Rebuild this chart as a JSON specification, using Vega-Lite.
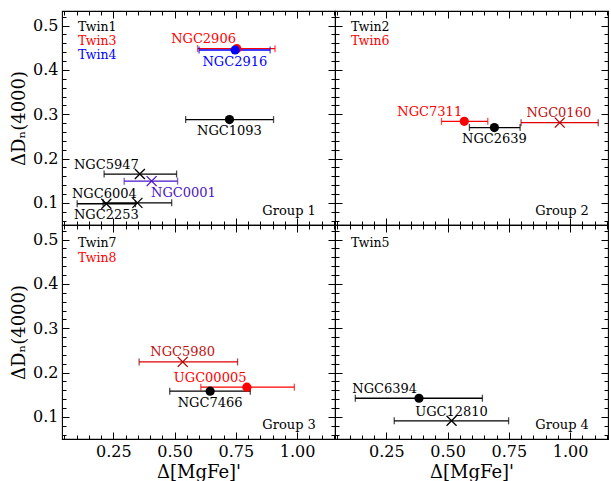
{
  "$schema": "https://vega.github.io/schema/vega-lite/v6.json",
  "padding": {"left": 10, "top": 9, "right": 2, "bottom": 5},
  "background": "white",
  "config": {
    "view": {"stroke": "#000000", "strokeWidth": 1.1},
    "axis": {"domain": false, "grid": false, "tickColor": "#000000", "tickWidth": 1, "labelColor": "#000000", "titleColor": "#000000", "labelFont": "DejaVu Serif", "labelFontSize": 16, "titleFont": "DejaVu Serif", "titleFontSize": 18, "titleFontWeight": "normal", "zindex": 1},
    "text": {"font": "DejaVu Serif", "fontSize": 13}
  },
  "datasets": {
    "rows": [
      {"g": 1, "k": "pt", "name": "NGC2906", "x": 0.754, "y": 0.448, "lo": 0.594, "hi": 0.91, "m": "o", "c": "r"},
      {"g": 1, "k": "pt", "name": "NGC2916", "x": 0.747, "y": 0.445, "lo": 0.6, "hi": 0.89, "m": "o", "c": "b"},
      {"g": 1, "k": "pt", "name": "NGC1093", "x": 0.724, "y": 0.288, "lo": 0.545, "hi": 0.904, "m": "o", "c": "k"},
      {"g": 1, "k": "pt", "name": "NGC5947", "x": 0.358, "y": 0.165, "lo": 0.212, "hi": 0.508, "m": "x", "c": "k"},
      {"g": 1, "k": "pt", "name": "NGC0001", "x": 0.406, "y": 0.149, "lo": 0.294, "hi": 0.512, "m": "x", "c": "p"},
      {"g": 1, "k": "pt", "name": "NGC6004", "x": 0.221, "y": 0.098, "lo": 0.102, "hi": 0.34, "m": "x", "c": "k"},
      {"g": 1, "k": "pt", "name": "NGC2253", "x": 0.348, "y": 0.1, "lo": 0.208, "hi": 0.488, "m": "x", "c": "k"},
      {"g": 2, "k": "pt", "name": "NGC7311", "x": 0.568, "y": 0.284, "lo": 0.475, "hi": 0.664, "m": "o", "c": "r"},
      {"g": 2, "k": "pt", "name": "NGC2639", "x": 0.691, "y": 0.27, "lo": 0.589, "hi": 0.796, "m": "o", "c": "k"},
      {"g": 2, "k": "pt", "name": "NGC0160", "x": 0.958, "y": 0.281, "lo": 0.8, "hi": 1.115, "m": "x", "c": "d"},
      {"g": 3, "k": "pt", "name": "NGC5980", "x": 0.533, "y": 0.224, "lo": 0.355, "hi": 0.757, "m": "x", "c": "d"},
      {"g": 3, "k": "pt", "name": "UGC00005", "x": 0.795, "y": 0.167, "lo": 0.607, "hi": 0.989, "m": "o", "c": "r"},
      {"g": 3, "k": "pt", "name": "NGC7466", "x": 0.645, "y": 0.158, "lo": 0.48, "hi": 0.809, "m": "o", "c": "k"},
      {"g": 4, "k": "pt", "name": "NGC6394", "x": 0.383, "y": 0.142, "lo": 0.123, "hi": 0.642, "m": "o", "c": "k"},
      {"g": 4, "k": "pt", "name": "UGC12810", "x": 0.516, "y": 0.091, "lo": 0.282, "hi": 0.749, "m": "x", "c": "k"},
      {"g": 1, "k": "lab", "text": "NGC2906", "x": 0.618, "y": 0.47, "c": "r"},
      {"g": 1, "k": "lab", "text": "NGC2916", "x": 0.746, "y": 0.418, "c": "b"},
      {"g": 1, "k": "lab", "text": "NGC1093", "x": 0.724, "y": 0.262, "c": "k"},
      {"g": 1, "k": "lab", "text": "NGC5947", "x": 0.221, "y": 0.185, "c": "k"},
      {"g": 1, "k": "lab", "text": "NGC0001", "x": 0.536, "y": 0.123, "c": "p"},
      {"g": 1, "k": "lab", "text": "NGC6004", "x": 0.213, "y": 0.119, "c": "k"},
      {"g": 1, "k": "lab", "text": "NGC2253", "x": 0.221, "y": 0.073, "c": "k"},
      {"g": 2, "k": "lab", "text": "NGC7311", "x": 0.427, "y": 0.305, "c": "r"},
      {"g": 2, "k": "lab", "text": "NGC2639", "x": 0.691, "y": 0.245, "c": "k"},
      {"g": 2, "k": "lab", "text": "NGC0160", "x": 0.954, "y": 0.302, "c": "d"},
      {"g": 3, "k": "lab", "text": "NGC5980", "x": 0.533, "y": 0.246, "c": "d"},
      {"g": 3, "k": "lab", "text": "UGC00005", "x": 0.645, "y": 0.188, "c": "r"},
      {"g": 3, "k": "lab", "text": "NGC7466", "x": 0.645, "y": 0.132, "c": "k"},
      {"g": 4, "k": "lab", "text": "NGC6394", "x": 0.243, "y": 0.162, "c": "k"},
      {"g": 4, "k": "lab", "text": "UGC12810", "x": 0.516, "y": 0.112, "c": "k"},
      {"g": 1, "k": "twin", "text": "Twin1", "x": 0.105, "y": 0.497, "c": "k"},
      {"g": 1, "k": "twin", "text": "Twin3", "x": 0.105, "y": 0.465, "c": "r"},
      {"g": 1, "k": "twin", "text": "Twin4", "x": 0.105, "y": 0.434, "c": "b"},
      {"g": 2, "k": "twin", "text": "Twin2", "x": 0.105, "y": 0.497, "c": "k"},
      {"g": 2, "k": "twin", "text": "Twin6", "x": 0.105, "y": 0.465, "c": "r"},
      {"g": 3, "k": "twin", "text": "Twin7", "x": 0.105, "y": 0.492, "c": "k"},
      {"g": 3, "k": "twin", "text": "Twin8", "x": 0.105, "y": 0.459, "c": "r"},
      {"g": 4, "k": "twin", "text": "Twin5", "x": 0.105, "y": 0.492, "c": "k"},
      {"g": 1, "k": "grp", "text": "Group 1", "x": 1.077, "y": 0.082, "c": "k"},
      {"g": 2, "k": "grp", "text": "Group 2", "x": 1.077, "y": 0.082, "c": "k"},
      {"g": 3, "k": "grp", "text": "Group 3", "x": 1.077, "y": 0.082, "c": "k"},
      {"g": 4, "k": "grp", "text": "Group 4", "x": 1.077, "y": 0.082, "c": "k"}
    ]
  },
  "columns": 2,
  "spacing": 0,
  "bounds": "flush",
  "concat": [
    {
      "width": 273, "height": 214,
      "data": {"name": "rows"},
      "transform": [{"filter": "datum.g == 1"}],
      "resolve": {"axis": {"x": "independent", "y": "independent"}, "scale": {"color": "independent"}},
      "layer": [
        {"transform": [{"filter": "datum.k == 'pt'"}], "mark": {"type": "rule", "strokeWidth": 1.3},
         "encoding": {
           "x": {"field": "lo", "type": "quantitative", "scale": {"domain": [0.04, 1.155], "nice": false, "zero": false}, "axis": null},
           "x2": {"field": "hi"},
           "y": {"field": "y", "type": "quantitative", "scale": {"domain": [0.05, 0.533], "nice": false, "zero": false}, "axis": {"orient": "left", "values": [0.1, 0.2, 0.3, 0.4, 0.5], "ticks": false, "tickSize": 0, "labelPadding": 4, "format": ".1f", "title": "ΔDₙ(4000)"}},
           "color": {"field": "c", "type": "nominal", "scale": {"domain": ["k", "r", "b", "p", "d"], "range": ["#000000", "#ff0000", "#0000ff", "#4a14c8", "#e00000"]}, "legend": null}}},
        {"transform": [{"filter": "datum.k == 'pt'"}], "mark": {"type": "tick", "orient": "vertical", "size": 7, "thickness": 1.3},
         "encoding": {
           "x": {"field": "lo", "type": "quantitative", "scale": {"domain": [0.04, 1.155], "nice": false, "zero": false}, "axis": {"orient": "top", "offset": -214, "values": [0.25, 0.5, 0.75, 1.0], "tickSize": 7, "labels": false, "title": null}},
           "y": {"field": "y", "type": "quantitative", "scale": {"domain": [0.05, 0.533], "nice": false, "zero": false}, "axis": {"orient": "right", "offset": -273, "values": [0.1, 0.2, 0.3, 0.4, 0.5], "tickSize": 7, "labels": false, "title": null}},
           "color": {"field": "c", "type": "nominal", "scale": {"domain": ["k", "r", "b", "p", "d"], "range": ["#000000", "#ff0000", "#0000ff", "#4a14c8", "#800000"]}, "legend": null}}},
        {"transform": [{"filter": "datum.k == 'pt'"}], "mark": {"type": "tick", "orient": "vertical", "size": 7, "thickness": 1.3},
         "encoding": {
           "x": {"field": "hi", "type": "quantitative", "scale": {"domain": [0.04, 1.155], "nice": false, "zero": false}, "axis": {"orient": "top", "offset": -214, "values": [0.05, 0.1, 0.15, 0.2, 0.3, 0.35, 0.4, 0.45, 0.55, 0.6, 0.65, 0.7, 0.8, 0.85, 0.9, 0.95, 1.05, 1.1, 1.15], "tickSize": 4, "labels": false, "title": null}},
           "y": {"field": "y", "type": "quantitative", "scale": {"domain": [0.05, 0.533], "nice": false, "zero": false}, "axis": {"orient": "right", "offset": -273, "values": [0.06, 0.08, 0.12, 0.14, 0.16, 0.18, 0.22, 0.24, 0.26, 0.28, 0.32, 0.34, 0.36, 0.38, 0.42, 0.44, 0.46, 0.48, 0.52], "tickSize": 4, "labels": false, "title": null}},
           "color": {"field": "c", "type": "nominal", "scale": {"domain": ["k", "r", "b", "p", "d"], "range": ["#000000", "#ff0000", "#0000ff", "#4a14c8", "#800000"]}, "legend": null}}},
        {"transform": [{"filter": "datum.k == 'pt' && datum.m == 'o'"}], "mark": {"type": "point", "shape": "circle", "filled": true, "opacity": 1, "size": 85},
         "encoding": {
           "x": {"field": "x", "type": "quantitative", "scale": {"domain": [0.04, 1.155], "nice": false, "zero": false}, "axis": {"orient": "bottom", "offset": -214, "values": [0.25, 0.5, 0.75, 1.0], "tickSize": 7, "labels": false, "title": null}},
           "y": {"field": "y", "type": "quantitative", "scale": {"domain": [0.05, 0.533], "nice": false, "zero": false}, "axis": {"orient": "left", "offset": -273, "values": [0.1, 0.2, 0.3, 0.4, 0.5], "tickSize": 7, "labels": false, "title": null}},
           "color": {"field": "c", "type": "nominal", "scale": {"domain": ["k", "r", "b", "p", "d"], "range": ["#000000", "#ff0000", "#0000ff", "#4a14c8", "#b00000"]}, "legend": null}}},
        {"transform": [{"filter": "datum.k == 'pt' && datum.m == 'x'"}], "mark": {"type": "point", "shape": "M-1,-1L1,1M1,-1L-1,1", "filled": false, "opacity": 1, "size": 100, "strokeWidth": 1.3},
         "encoding": {
           "x": {"field": "x", "type": "quantitative", "scale": {"domain": [0.04, 1.155], "nice": false, "zero": false}, "axis": {"orient": "bottom", "offset": -214, "values": [0.05, 0.1, 0.15, 0.2, 0.3, 0.35, 0.4, 0.45, 0.55, 0.6, 0.65, 0.7, 0.8, 0.85, 0.9, 0.95, 1.05, 1.1, 1.15], "tickSize": 4, "labels": false, "title": null}},
           "y": {"field": "y", "type": "quantitative", "scale": {"domain": [0.05, 0.533], "nice": false, "zero": false}, "axis": {"orient": "left", "offset": -273, "values": [0.06, 0.08, 0.12, 0.14, 0.16, 0.18, 0.22, 0.24, 0.26, 0.28, 0.32, 0.34, 0.36, 0.38, 0.42, 0.44, 0.46, 0.48, 0.52], "tickSize": 4, "labels": false, "title": null}},
           "color": {"field": "c", "type": "nominal", "scale": {"domain": ["k", "r", "b", "p", "d"], "range": ["#000000", "#ff0000", "#0000ff", "#4a14c8", "#b00000"]}, "legend": null}}},
        {"transform": [{"filter": "datum.k == 'lab'"}], "mark": {"type": "text", "align": "center", "baseline": "middle"},
         "encoding": {
           "x": {"field": "x", "type": "quantitative", "scale": {"domain": [0.04, 1.155], "nice": false, "zero": false}, "axis": null},
           "y": {"field": "y", "type": "quantitative", "scale": {"domain": [0.05, 0.533], "nice": false, "zero": false}, "axis": null},
           "text": {"field": "text"},
           "color": {"field": "c", "type": "nominal", "scale": {"domain": ["k", "r", "b", "p", "d"], "range": ["#000000", "#ff0000", "#0000ff", "#4a14c8", "#c01010"]}, "legend": null}}},
        {"transform": [{"filter": "datum.k == 'twin'"}], "mark": {"type": "text", "align": "left", "baseline": "middle", "fontSize": 12.5},
         "encoding": {
           "x": {"field": "x", "type": "quantitative", "scale": {"domain": [0.04, 1.155], "nice": false, "zero": false}, "axis": null},
           "y": {"field": "y", "type": "quantitative", "scale": {"domain": [0.05, 0.533], "nice": false, "zero": false}, "axis": null},
           "text": {"field": "text"},
           "color": {"field": "c", "type": "nominal", "scale": {"domain": ["k", "r", "b", "p", "d"], "range": ["#000000", "#ff0000", "#0000ff", "#4a14c8", "#c01010"]}, "legend": null}}},
        {"transform": [{"filter": "datum.k == 'grp'"}], "mark": {"type": "text", "align": "right", "baseline": "middle", "color": "#000000"},
         "encoding": {
           "x": {"field": "x", "type": "quantitative", "scale": {"domain": [0.04, 1.155], "nice": false, "zero": false}, "axis": null},
           "y": {"field": "y", "type": "quantitative", "scale": {"domain": [0.05, 0.533], "nice": false, "zero": false}, "axis": null},
           "text": {"field": "text"}}}
      ]
    },
    {
      "width": 273, "height": 214,
      "data": {"name": "rows"},
      "transform": [{"filter": "datum.g == 2"}],
      "resolve": {"axis": {"x": "independent", "y": "independent"}, "scale": {"color": "independent"}},
      "layer": [
        {"transform": [{"filter": "datum.k == 'pt'"}], "mark": {"type": "rule", "strokeWidth": 1.3},
         "encoding": {
           "x": {"field": "lo", "type": "quantitative", "scale": {"domain": [0.04, 1.155], "nice": false, "zero": false}, "axis": null},
           "x2": {"field": "hi"},
           "y": {"field": "y", "type": "quantitative", "scale": {"domain": [0.05, 0.533], "nice": false, "zero": false}, "axis": null},
           "color": {"field": "c", "type": "nominal", "scale": {"domain": ["k", "r", "b", "p", "d"], "range": ["#000000", "#ff0000", "#0000ff", "#4a14c8", "#e00000"]}, "legend": null}}},
        {"transform": [{"filter": "datum.k == 'pt'"}], "mark": {"type": "tick", "orient": "vertical", "size": 7, "thickness": 1.3},
         "encoding": {
           "x": {"field": "lo", "type": "quantitative", "scale": {"domain": [0.04, 1.155], "nice": false, "zero": false}, "axis": {"orient": "top", "offset": -214, "values": [0.25, 0.5, 0.75, 1.0], "tickSize": 7, "labels": false, "title": null}},
           "y": {"field": "y", "type": "quantitative", "scale": {"domain": [0.05, 0.533], "nice": false, "zero": false}, "axis": {"orient": "right", "offset": -273, "values": [0.1, 0.2, 0.3, 0.4, 0.5], "tickSize": 7, "labels": false, "title": null}},
           "color": {"field": "c", "type": "nominal", "scale": {"domain": ["k", "r", "b", "p", "d"], "range": ["#000000", "#ff0000", "#0000ff", "#4a14c8", "#800000"]}, "legend": null}}},
        {"transform": [{"filter": "datum.k == 'pt'"}], "mark": {"type": "tick", "orient": "vertical", "size": 7, "thickness": 1.3},
         "encoding": {
           "x": {"field": "hi", "type": "quantitative", "scale": {"domain": [0.04, 1.155], "nice": false, "zero": false}, "axis": {"orient": "top", "offset": -214, "values": [0.05, 0.1, 0.15, 0.2, 0.3, 0.35, 0.4, 0.45, 0.55, 0.6, 0.65, 0.7, 0.8, 0.85, 0.9, 0.95, 1.05, 1.1, 1.15], "tickSize": 4, "labels": false, "title": null}},
           "y": {"field": "y", "type": "quantitative", "scale": {"domain": [0.05, 0.533], "nice": false, "zero": false}, "axis": {"orient": "right", "offset": -273, "values": [0.06, 0.08, 0.12, 0.14, 0.16, 0.18, 0.22, 0.24, 0.26, 0.28, 0.32, 0.34, 0.36, 0.38, 0.42, 0.44, 0.46, 0.48, 0.52], "tickSize": 4, "labels": false, "title": null}},
           "color": {"field": "c", "type": "nominal", "scale": {"domain": ["k", "r", "b", "p", "d"], "range": ["#000000", "#ff0000", "#0000ff", "#4a14c8", "#800000"]}, "legend": null}}},
        {"transform": [{"filter": "datum.k == 'pt' && datum.m == 'o'"}], "mark": {"type": "point", "shape": "circle", "filled": true, "opacity": 1, "size": 85},
         "encoding": {
           "x": {"field": "x", "type": "quantitative", "scale": {"domain": [0.04, 1.155], "nice": false, "zero": false}, "axis": {"orient": "bottom", "offset": -214, "values": [0.25, 0.5, 0.75, 1.0], "tickSize": 7, "labels": false, "title": null}},
           "y": {"field": "y", "type": "quantitative", "scale": {"domain": [0.05, 0.533], "nice": false, "zero": false}, "axis": {"orient": "left", "offset": -273, "values": [0.1, 0.2, 0.3, 0.4, 0.5], "tickSize": 7, "labels": false, "title": null}},
           "color": {"field": "c", "type": "nominal", "scale": {"domain": ["k", "r", "b", "p", "d"], "range": ["#000000", "#ff0000", "#0000ff", "#4a14c8", "#b00000"]}, "legend": null}}},
        {"transform": [{"filter": "datum.k == 'pt' && datum.m == 'x'"}], "mark": {"type": "point", "shape": "M-1,-1L1,1M1,-1L-1,1", "filled": false, "opacity": 1, "size": 100, "strokeWidth": 1.3},
         "encoding": {
           "x": {"field": "x", "type": "quantitative", "scale": {"domain": [0.04, 1.155], "nice": false, "zero": false}, "axis": {"orient": "bottom", "offset": -214, "values": [0.05, 0.1, 0.15, 0.2, 0.3, 0.35, 0.4, 0.45, 0.55, 0.6, 0.65, 0.7, 0.8, 0.85, 0.9, 0.95, 1.05, 1.1, 1.15], "tickSize": 4, "labels": false, "title": null}},
           "y": {"field": "y", "type": "quantitative", "scale": {"domain": [0.05, 0.533], "nice": false, "zero": false}, "axis": {"orient": "left", "offset": -273, "values": [0.06, 0.08, 0.12, 0.14, 0.16, 0.18, 0.22, 0.24, 0.26, 0.28, 0.32, 0.34, 0.36, 0.38, 0.42, 0.44, 0.46, 0.48, 0.52], "tickSize": 4, "labels": false, "title": null}},
           "color": {"field": "c", "type": "nominal", "scale": {"domain": ["k", "r", "b", "p", "d"], "range": ["#000000", "#ff0000", "#0000ff", "#4a14c8", "#b00000"]}, "legend": null}}},
        {"transform": [{"filter": "datum.k == 'lab'"}], "mark": {"type": "text", "align": "center", "baseline": "middle"},
         "encoding": {
           "x": {"field": "x", "type": "quantitative", "scale": {"domain": [0.04, 1.155], "nice": false, "zero": false}, "axis": null},
           "y": {"field": "y", "type": "quantitative", "scale": {"domain": [0.05, 0.533], "nice": false, "zero": false}, "axis": null},
           "text": {"field": "text"},
           "color": {"field": "c", "type": "nominal", "scale": {"domain": ["k", "r", "b", "p", "d"], "range": ["#000000", "#ff0000", "#0000ff", "#4a14c8", "#c01010"]}, "legend": null}}},
        {"transform": [{"filter": "datum.k == 'twin'"}], "mark": {"type": "text", "align": "left", "baseline": "middle", "fontSize": 12.5},
         "encoding": {
           "x": {"field": "x", "type": "quantitative", "scale": {"domain": [0.04, 1.155], "nice": false, "zero": false}, "axis": null},
           "y": {"field": "y", "type": "quantitative", "scale": {"domain": [0.05, 0.533], "nice": false, "zero": false}, "axis": null},
           "text": {"field": "text"},
           "color": {"field": "c", "type": "nominal", "scale": {"domain": ["k", "r", "b", "p", "d"], "range": ["#000000", "#ff0000", "#0000ff", "#4a14c8", "#c01010"]}, "legend": null}}},
        {"transform": [{"filter": "datum.k == 'grp'"}], "mark": {"type": "text", "align": "right", "baseline": "middle", "color": "#000000"},
         "encoding": {
           "x": {"field": "x", "type": "quantitative", "scale": {"domain": [0.04, 1.155], "nice": false, "zero": false}, "axis": null},
           "y": {"field": "y", "type": "quantitative", "scale": {"domain": [0.05, 0.533], "nice": false, "zero": false}, "axis": null},
           "text": {"field": "text"}}}
      ]
    },
    {
      "width": 273, "height": 214,
      "data": {"name": "rows"},
      "transform": [{"filter": "datum.g == 3"}],
      "resolve": {"axis": {"x": "independent", "y": "independent"}, "scale": {"color": "independent"}},
      "layer": [
        {"transform": [{"filter": "datum.k == 'pt'"}], "mark": {"type": "rule", "strokeWidth": 1.3},
         "encoding": {
           "x": {"field": "lo", "type": "quantitative", "scale": {"domain": [0.04, 1.155], "nice": false, "zero": false}, "axis": {"orient": "bottom", "values": [0.25, 0.5, 0.75, 1.0], "ticks": false, "tickSize": 0, "labelPadding": 4, "format": ".2f", "title": "Δ[MgFe]'"}},
           "x2": {"field": "hi"},
           "y": {"field": "y", "type": "quantitative", "scale": {"domain": [0.05, 0.533], "nice": false, "zero": false}, "axis": {"orient": "left", "values": [0.1, 0.2, 0.3, 0.4, 0.5], "ticks": false, "tickSize": 0, "labelPadding": 4, "format": ".1f", "title": "ΔDₙ(4000)"}},
           "color": {"field": "c", "type": "nominal", "scale": {"domain": ["k", "r", "b", "p", "d"], "range": ["#000000", "#ff0000", "#0000ff", "#4a14c8", "#e00000"]}, "legend": null}}},
        {"transform": [{"filter": "datum.k == 'pt'"}], "mark": {"type": "tick", "orient": "vertical", "size": 7, "thickness": 1.3},
         "encoding": {
           "x": {"field": "lo", "type": "quantitative", "scale": {"domain": [0.04, 1.155], "nice": false, "zero": false}, "axis": {"orient": "top", "offset": -214, "values": [0.25, 0.5, 0.75, 1.0], "tickSize": 7, "labels": false, "title": null}},
           "y": {"field": "y", "type": "quantitative", "scale": {"domain": [0.05, 0.533], "nice": false, "zero": false}, "axis": {"orient": "right", "offset": -273, "values": [0.1, 0.2, 0.3, 0.4, 0.5], "tickSize": 7, "labels": false, "title": null}},
           "color": {"field": "c", "type": "nominal", "scale": {"domain": ["k", "r", "b", "p", "d"], "range": ["#000000", "#ff0000", "#0000ff", "#4a14c8", "#800000"]}, "legend": null}}},
        {"transform": [{"filter": "datum.k == 'pt'"}], "mark": {"type": "tick", "orient": "vertical", "size": 7, "thickness": 1.3},
         "encoding": {
           "x": {"field": "hi", "type": "quantitative", "scale": {"domain": [0.04, 1.155], "nice": false, "zero": false}, "axis": {"orient": "top", "offset": -214, "values": [0.05, 0.1, 0.15, 0.2, 0.3, 0.35, 0.4, 0.45, 0.55, 0.6, 0.65, 0.7, 0.8, 0.85, 0.9, 0.95, 1.05, 1.1, 1.15], "tickSize": 4, "labels": false, "title": null}},
           "y": {"field": "y", "type": "quantitative", "scale": {"domain": [0.05, 0.533], "nice": false, "zero": false}, "axis": {"orient": "right", "offset": -273, "values": [0.06, 0.08, 0.12, 0.14, 0.16, 0.18, 0.22, 0.24, 0.26, 0.28, 0.32, 0.34, 0.36, 0.38, 0.42, 0.44, 0.46, 0.48, 0.52], "tickSize": 4, "labels": false, "title": null}},
           "color": {"field": "c", "type": "nominal", "scale": {"domain": ["k", "r", "b", "p", "d"], "range": ["#000000", "#ff0000", "#0000ff", "#4a14c8", "#800000"]}, "legend": null}}},
        {"transform": [{"filter": "datum.k == 'pt' && datum.m == 'o'"}], "mark": {"type": "point", "shape": "circle", "filled": true, "opacity": 1, "size": 85},
         "encoding": {
           "x": {"field": "x", "type": "quantitative", "scale": {"domain": [0.04, 1.155], "nice": false, "zero": false}, "axis": {"orient": "bottom", "offset": -214, "values": [0.25, 0.5, 0.75, 1.0], "tickSize": 7, "labels": false, "title": null}},
           "y": {"field": "y", "type": "quantitative", "scale": {"domain": [0.05, 0.533], "nice": false, "zero": false}, "axis": {"orient": "left", "offset": -273, "values": [0.1, 0.2, 0.3, 0.4, 0.5], "tickSize": 7, "labels": false, "title": null}},
           "color": {"field": "c", "type": "nominal", "scale": {"domain": ["k", "r", "b", "p", "d"], "range": ["#000000", "#ff0000", "#0000ff", "#4a14c8", "#b00000"]}, "legend": null}}},
        {"transform": [{"filter": "datum.k == 'pt' && datum.m == 'x'"}], "mark": {"type": "point", "shape": "M-1,-1L1,1M1,-1L-1,1", "filled": false, "opacity": 1, "size": 100, "strokeWidth": 1.3},
         "encoding": {
           "x": {"field": "x", "type": "quantitative", "scale": {"domain": [0.04, 1.155], "nice": false, "zero": false}, "axis": {"orient": "bottom", "offset": -214, "values": [0.05, 0.1, 0.15, 0.2, 0.3, 0.35, 0.4, 0.45, 0.55, 0.6, 0.65, 0.7, 0.8, 0.85, 0.9, 0.95, 1.05, 1.1, 1.15], "tickSize": 4, "labels": false, "title": null}},
           "y": {"field": "y", "type": "quantitative", "scale": {"domain": [0.05, 0.533], "nice": false, "zero": false}, "axis": {"orient": "left", "offset": -273, "values": [0.06, 0.08, 0.12, 0.14, 0.16, 0.18, 0.22, 0.24, 0.26, 0.28, 0.32, 0.34, 0.36, 0.38, 0.42, 0.44, 0.46, 0.48, 0.52], "tickSize": 4, "labels": false, "title": null}},
           "color": {"field": "c", "type": "nominal", "scale": {"domain": ["k", "r", "b", "p", "d"], "range": ["#000000", "#ff0000", "#0000ff", "#4a14c8", "#b00000"]}, "legend": null}}},
        {"transform": [{"filter": "datum.k == 'lab'"}], "mark": {"type": "text", "align": "center", "baseline": "middle"},
         "encoding": {
           "x": {"field": "x", "type": "quantitative", "scale": {"domain": [0.04, 1.155], "nice": false, "zero": false}, "axis": null},
           "y": {"field": "y", "type": "quantitative", "scale": {"domain": [0.05, 0.533], "nice": false, "zero": false}, "axis": null},
           "text": {"field": "text"},
           "color": {"field": "c", "type": "nominal", "scale": {"domain": ["k", "r", "b", "p", "d"], "range": ["#000000", "#ff0000", "#0000ff", "#4a14c8", "#c01010"]}, "legend": null}}},
        {"transform": [{"filter": "datum.k == 'twin'"}], "mark": {"type": "text", "align": "left", "baseline": "middle", "fontSize": 12.5},
         "encoding": {
           "x": {"field": "x", "type": "quantitative", "scale": {"domain": [0.04, 1.155], "nice": false, "zero": false}, "axis": null},
           "y": {"field": "y", "type": "quantitative", "scale": {"domain": [0.05, 0.533], "nice": false, "zero": false}, "axis": null},
           "text": {"field": "text"},
           "color": {"field": "c", "type": "nominal", "scale": {"domain": ["k", "r", "b", "p", "d"], "range": ["#000000", "#ff0000", "#0000ff", "#4a14c8", "#c01010"]}, "legend": null}}},
        {"transform": [{"filter": "datum.k == 'grp'"}], "mark": {"type": "text", "align": "right", "baseline": "middle", "color": "#000000"},
         "encoding": {
           "x": {"field": "x", "type": "quantitative", "scale": {"domain": [0.04, 1.155], "nice": false, "zero": false}, "axis": null},
           "y": {"field": "y", "type": "quantitative", "scale": {"domain": [0.05, 0.533], "nice": false, "zero": false}, "axis": null},
           "text": {"field": "text"}}}
      ]
    },
    {
      "width": 273, "height": 214,
      "data": {"name": "rows"},
      "transform": [{"filter": "datum.g == 4"}],
      "resolve": {"axis": {"x": "independent", "y": "independent"}, "scale": {"color": "independent"}},
      "layer": [
        {"transform": [{"filter": "datum.k == 'pt'"}], "mark": {"type": "rule", "strokeWidth": 1.3},
         "encoding": {
           "x": {"field": "lo", "type": "quantitative", "scale": {"domain": [0.04, 1.155], "nice": false, "zero": false}, "axis": {"orient": "bottom", "values": [0.25, 0.5, 0.75, 1.0], "ticks": false, "tickSize": 0, "labelPadding": 4, "format": ".2f", "title": "Δ[MgFe]'"}},
           "x2": {"field": "hi"},
           "y": {"field": "y", "type": "quantitative", "scale": {"domain": [0.05, 0.533], "nice": false, "zero": false}, "axis": null},
           "color": {"field": "c", "type": "nominal", "scale": {"domain": ["k", "r", "b", "p", "d"], "range": ["#000000", "#ff0000", "#0000ff", "#4a14c8", "#e00000"]}, "legend": null}}},
        {"transform": [{"filter": "datum.k == 'pt'"}], "mark": {"type": "tick", "orient": "vertical", "size": 7, "thickness": 1.3},
         "encoding": {
           "x": {"field": "lo", "type": "quantitative", "scale": {"domain": [0.04, 1.155], "nice": false, "zero": false}, "axis": {"orient": "top", "offset": -214, "values": [0.25, 0.5, 0.75, 1.0], "tickSize": 7, "labels": false, "title": null}},
           "y": {"field": "y", "type": "quantitative", "scale": {"domain": [0.05, 0.533], "nice": false, "zero": false}, "axis": {"orient": "right", "offset": -273, "values": [0.1, 0.2, 0.3, 0.4, 0.5], "tickSize": 7, "labels": false, "title": null}},
           "color": {"field": "c", "type": "nominal", "scale": {"domain": ["k", "r", "b", "p", "d"], "range": ["#000000", "#ff0000", "#0000ff", "#4a14c8", "#800000"]}, "legend": null}}},
        {"transform": [{"filter": "datum.k == 'pt'"}], "mark": {"type": "tick", "orient": "vertical", "size": 7, "thickness": 1.3},
         "encoding": {
           "x": {"field": "hi", "type": "quantitative", "scale": {"domain": [0.04, 1.155], "nice": false, "zero": false}, "axis": {"orient": "top", "offset": -214, "values": [0.05, 0.1, 0.15, 0.2, 0.3, 0.35, 0.4, 0.45, 0.55, 0.6, 0.65, 0.7, 0.8, 0.85, 0.9, 0.95, 1.05, 1.1, 1.15], "tickSize": 4, "labels": false, "title": null}},
           "y": {"field": "y", "type": "quantitative", "scale": {"domain": [0.05, 0.533], "nice": false, "zero": false}, "axis": {"orient": "right", "offset": -273, "values": [0.06, 0.08, 0.12, 0.14, 0.16, 0.18, 0.22, 0.24, 0.26, 0.28, 0.32, 0.34, 0.36, 0.38, 0.42, 0.44, 0.46, 0.48, 0.52], "tickSize": 4, "labels": false, "title": null}},
           "color": {"field": "c", "type": "nominal", "scale": {"domain": ["k", "r", "b", "p", "d"], "range": ["#000000", "#ff0000", "#0000ff", "#4a14c8", "#800000"]}, "legend": null}}},
        {"transform": [{"filter": "datum.k == 'pt' && datum.m == 'o'"}], "mark": {"type": "point", "shape": "circle", "filled": true, "opacity": 1, "size": 85},
         "encoding": {
           "x": {"field": "x", "type": "quantitative", "scale": {"domain": [0.04, 1.155], "nice": false, "zero": false}, "axis": {"orient": "bottom", "offset": -214, "values": [0.25, 0.5, 0.75, 1.0], "tickSize": 7, "labels": false, "title": null}},
           "y": {"field": "y", "type": "quantitative", "scale": {"domain": [0.05, 0.533], "nice": false, "zero": false}, "axis": {"orient": "left", "offset": -273, "values": [0.1, 0.2, 0.3, 0.4, 0.5], "tickSize": 7, "labels": false, "title": null}},
           "color": {"field": "c", "type": "nominal", "scale": {"domain": ["k", "r", "b", "p", "d"], "range": ["#000000", "#ff0000", "#0000ff", "#4a14c8", "#b00000"]}, "legend": null}}},
        {"transform": [{"filter": "datum.k == 'pt' && datum.m == 'x'"}], "mark": {"type": "point", "shape": "M-1,-1L1,1M1,-1L-1,1", "filled": false, "opacity": 1, "size": 100, "strokeWidth": 1.3},
         "encoding": {
           "x": {"field": "x", "type": "quantitative", "scale": {"domain": [0.04, 1.155], "nice": false, "zero": false}, "axis": {"orient": "bottom", "offset": -214, "values": [0.05, 0.1, 0.15, 0.2, 0.3, 0.35, 0.4, 0.45, 0.55, 0.6, 0.65, 0.7, 0.8, 0.85, 0.9, 0.95, 1.05, 1.1, 1.15], "tickSize": 4, "labels": false, "title": null}},
           "y": {"field": "y", "type": "quantitative", "scale": {"domain": [0.05, 0.533], "nice": false, "zero": false}, "axis": {"orient": "left", "offset": -273, "values": [0.06, 0.08, 0.12, 0.14, 0.16, 0.18, 0.22, 0.24, 0.26, 0.28, 0.32, 0.34, 0.36, 0.38, 0.42, 0.44, 0.46, 0.48, 0.52], "tickSize": 4, "labels": false, "title": null}},
           "color": {"field": "c", "type": "nominal", "scale": {"domain": ["k", "r", "b", "p", "d"], "range": ["#000000", "#ff0000", "#0000ff", "#4a14c8", "#b00000"]}, "legend": null}}},
        {"transform": [{"filter": "datum.k == 'lab'"}], "mark": {"type": "text", "align": "center", "baseline": "middle"},
         "encoding": {
           "x": {"field": "x", "type": "quantitative", "scale": {"domain": [0.04, 1.155], "nice": false, "zero": false}, "axis": null},
           "y": {"field": "y", "type": "quantitative", "scale": {"domain": [0.05, 0.533], "nice": false, "zero": false}, "axis": null},
           "text": {"field": "text"},
           "color": {"field": "c", "type": "nominal", "scale": {"domain": ["k", "r", "b", "p", "d"], "range": ["#000000", "#ff0000", "#0000ff", "#4a14c8", "#c01010"]}, "legend": null}}},
        {"transform": [{"filter": "datum.k == 'twin'"}], "mark": {"type": "text", "align": "left", "baseline": "middle", "fontSize": 12.5},
         "encoding": {
           "x": {"field": "x", "type": "quantitative", "scale": {"domain": [0.04, 1.155], "nice": false, "zero": false}, "axis": null},
           "y": {"field": "y", "type": "quantitative", "scale": {"domain": [0.05, 0.533], "nice": false, "zero": false}, "axis": null},
           "text": {"field": "text"},
           "color": {"field": "c", "type": "nominal", "scale": {"domain": ["k", "r", "b", "p", "d"], "range": ["#000000", "#ff0000", "#0000ff", "#4a14c8", "#c01010"]}, "legend": null}}},
        {"transform": [{"filter": "datum.k == 'grp'"}], "mark": {"type": "text", "align": "right", "baseline": "middle", "color": "#000000"},
         "encoding": {
           "x": {"field": "x", "type": "quantitative", "scale": {"domain": [0.04, 1.155], "nice": false, "zero": false}, "axis": null},
           "y": {"field": "y", "type": "quantitative", "scale": {"domain": [0.05, 0.533], "nice": false, "zero": false}, "axis": null},
           "text": {"field": "text"}}}
      ]
    }
  ]
}
